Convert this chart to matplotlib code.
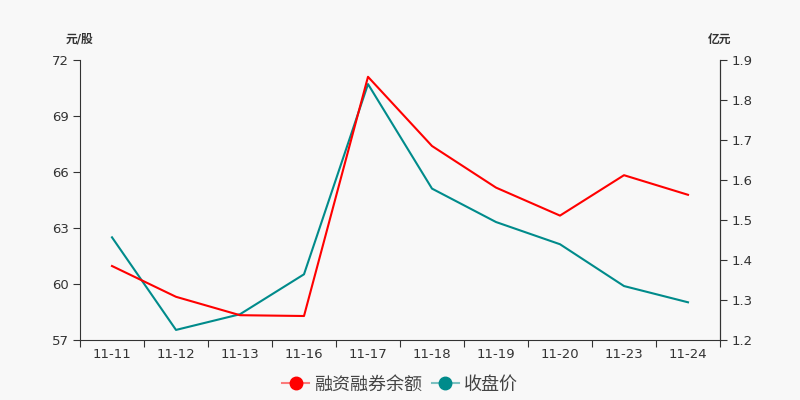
import matplotlib
matplotlib.use("Agg")
import matplotlib.pyplot as plt
from matplotlib.lines import Line2D
from matplotlib.legend_handler import HandlerTuple

plt.rcParams['font.family'] = ['DejaVu Sans', 'Noto Sans CJK SC']

dates = ["11-11", "11-12", "11-13", "11-16", "11-17", "11-18", "11-19", "11-20", "11-23", "11-24"]
# 收盘价 (元/股), left axis
close_price = [62.50, 57.54, 58.38, 60.52, 70.71, 65.11, 63.32, 62.13, 59.89, 59.02]
# 融资融券余额 (亿元), right axis
margin_balance = [1.385, 1.308, 1.262, 1.260, 1.858, 1.685, 1.581, 1.511, 1.612, 1.563]

RED = "#ff0000"
TEAL = "#008b8b"
AXIS = "#333333"
BG = "#f8f8f8"

fig = plt.figure(figsize=(8, 4), dpi=100, facecolor=BG)
ax = fig.add_axes([0.1, 0.15, 0.8, 0.70], facecolor=BG)
ax2 = ax.twinx()

x = list(range(len(dates)))
ax.plot(x, close_price, color=TEAL, lw=1.5, zorder=3)
ax2.plot(x, margin_balance, color=RED, lw=1.5, zorder=2)

ax.set_xlim(-0.5, len(dates) - 0.5)
ax.set_ylim(57, 72)
ax.set_yticks([57, 60, 63, 66, 69, 72])
ax2.set_ylim(1.2, 1.9)
ax2.set_yticks([1.2, 1.3, 1.4, 1.5, 1.6, 1.7, 1.8, 1.9])

ax.set_xticks([i - 0.5 for i in range(len(dates) + 1)])
ax.set_xticklabels([])
ax.set_xticks(x, minor=True)
ax.set_xticklabels(dates, minor=True)
ax.tick_params(axis='x', which='minor', length=0, pad=6, labelsize=9.5, labelcolor=AXIS)
ax.tick_params(axis='x', which='major', length=5, color=AXIS)

for a in (ax, ax2):
    for s in a.spines.values():
        s.set_color(AXIS)
    a.spines['top'].set_visible(False)
    a.tick_params(axis='y', length=5, color=AXIS, labelsize=9.5, labelcolor=AXIS, pad=3)
ax2.spines['left'].set_visible(False)
ax2.spines['bottom'].set_visible(False)

ax.text(0.0, 1.05, "元/股", transform=ax.transAxes, ha='center', va='bottom',
        fontsize=8.5, color=AXIS, fontweight='bold')
ax2.text(1.0, 1.05, "亿元", transform=ax.transAxes, ha='center', va='bottom',
         fontsize=8.5, color=AXIS, fontweight='bold')

h_red = (Line2D([], [], color=RED, alpha=0.5, lw=1.5),
         Line2D([], [], color=RED, marker='o', markersize=9, lw=0))
h_teal = (Line2D([], [], color=TEAL, alpha=0.5, lw=1.5),
          Line2D([], [], color=TEAL, marker='o', markersize=9, lw=0))
fig.legend([h_red, h_teal], ["融资融券余额", "收盘价"],
           handler_map={tuple: HandlerTuple(ndivide=1)},
           loc='lower center', bbox_to_anchor=(0.5, -0.025), ncol=2, frameon=False,
           fontsize=13, handlelength=1.5, handletextpad=0.3, columnspacing=0.5,
           labelcolor="#444444")

fig.savefig("out.png", dpi=100, facecolor=BG)
